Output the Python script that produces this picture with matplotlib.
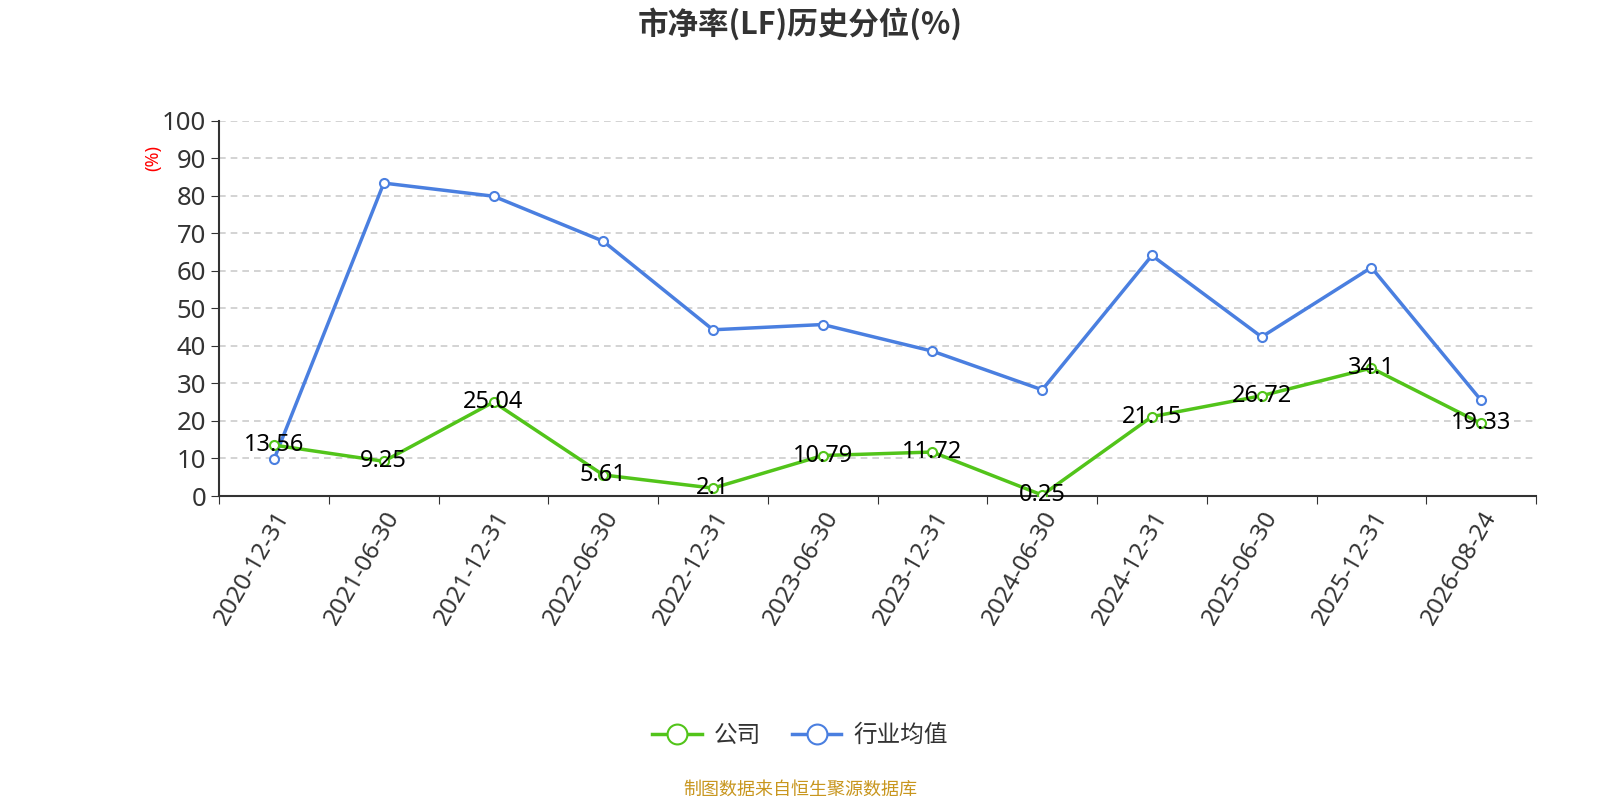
import matplotlib
matplotlib.use("Agg")
import matplotlib.pyplot as plt

plt.rcParams['font.family'] = ['Noto Sans', 'Noto Sans CJK SC', 'DejaVu Sans']

# data
dates = ["2020-12-31", "2021-06-30", "2021-12-31", "2022-06-30", "2022-12-31", "2023-06-30",
         "2023-12-31", "2024-06-30", "2024-12-31", "2025-06-30", "2025-12-31", "2026-08-24"]
company = [13.56, 9.25, 25.04, 5.61, 2.1, 10.79, 11.72, 0.25, 21.15, 26.72, 34.1, 19.33]
industry = [9.8, 83.4, 79.9, 67.9, 44.3, 45.7, 38.6, 28.3, 64.1, 42.4, 60.9, 25.5]

green = "#52c41a"
blue = "#4a7fe0"

fig = plt.figure(figsize=(16, 8), dpi=100)
ax = fig.add_axes([0.137, 0.38, 0.823, 0.469])

x = list(range(len(dates)))
ax.plot(x, industry, color=blue, lw=2.5, marker="o", ms=6.5, mfc="white", mec=blue, mew=1.5,
        label="行业均值", zorder=3)
ax.plot(x, company, color=green, lw=2.5, marker="o", ms=6.5, mfc="white", mec=green, mew=1.5,
        label="公司", zorder=4)

for xi, v in zip(x, company):
    ax.text(xi, v, f"{v:g}", ha="center", va="center", fontsize=17, color="black", zorder=5)

ax.set_xlim(-0.5, len(dates) - 0.5)
ax.set_ylim(0, 100)
ax.set_yticks(range(0, 101, 10))
ax.tick_params(axis="y", labelsize=18.5, labelcolor="#333333", length=6, color="#333333")
ax.set_xticks([i - 0.5 for i in range(len(dates) + 1)])
ax.set_xticklabels([])
ax.set_xticks(x, minor=True)
ax.set_xticklabels(dates, minor=True, rotation=60, ha="right", rotation_mode="anchor",
                   fontsize=17.5, color="#333333")
ax.tick_params(axis="x", which="major", length=6, color="#333333")
ax.tick_params(axis="x", which="minor", length=0, pad=8)

ax.grid(axis="y", color="#cccccc", ls=(0, (4, 3)), lw=1.2)
for s in ["top", "right"]:
    ax.spines[s].set_visible(False)
ax.spines["left"].set_color("#333333")
ax.spines["bottom"].set_color("#333333")
ax.spines["left"].set_linewidth(1.5)
ax.spines["bottom"].set_linewidth(1.5)

ax.text(-0.05, 0.9, "(%)", transform=ax.transAxes, rotation=90, color="red",
        fontsize=13, ha="center", va="center")

fig.text(0.5, 0.97, "市净率(LF)历史分位(%)", ha="center", va="center", fontsize=22,
         fontweight="bold", color="#333333", family=['Noto Sans CJK SC', 'DejaVu Sans'])

handles, labels = ax.get_legend_handles_labels()
leg = fig.legend(handles[::-1], labels[::-1], loc="center", bbox_to_anchor=(0.5, 0.08), ncol=2,
                 frameon=False, fontsize=17, markerscale=2.2, handlelength=2.1,
                 columnspacing=1.3, handletextpad=0.5)
for t in leg.get_texts():
    t.set_color("#333333")

fig.text(0.5, 0.013, "制图数据来自恒生聚源数据库", ha="center", va="center", fontsize=13,
         color="#c8961e")

fig.savefig("out.png", dpi=100)
